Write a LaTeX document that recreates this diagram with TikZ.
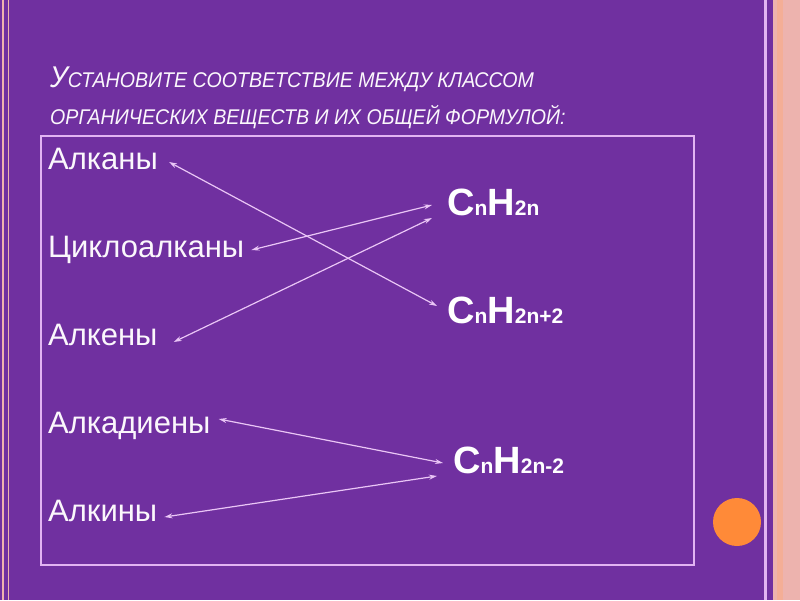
\documentclass[tikz,border=0pt]{standalone}
\usepackage{fontspec}
\setmainfont{Liberation Sans}
\newfontfamily\titlefont[FakeStretch=0.92]{Liberation Sans}
\usetikzlibrary{arrows.meta,calc}
\definecolor{slidebg}{HTML}{7030A0}
\definecolor{framelav}{HTML}{E2B4F2}
\definecolor{arrowlav}{HTML}{EAC6F6}
\definecolor{stripepink}{HTML}{EDB3AE}
\definecolor{stripesalmon}{HTML}{F4AE96}
\definecolor{dotorange}{HTML}{FF8A38}
\definecolor{textwhite}{HTML}{FBF7FC}

% C_n H_... with small letters standing on the baseline
\newcommand{\chemformula}[1]{{\fontsize{38}{38}\selectfont C}{\fontsize{21}{21}\selectfont n}{\fontsize{38}{38}\selectfont H}{\fontsize{21}{21}\selectfont #1}}

\begin{document}
\begin{tikzpicture}[x=1pt,y=-1pt,
    classname/.style={anchor=base west,inner sep=0pt,text=textwhite,font=\fontsize{31}{31}\selectfont},
    formbox/.style={anchor=base west,inner sep=0pt,text=white,font=\bfseries},
    headline/.style={anchor=base west,inner sep=0pt,text=textwhite,font=\titlefont\itshape\fontsize{21.3}{21.3}\selectfont},
    connect/.style={draw=arrowlav,line width=1.2pt,{Stealth[length=8pt,width=5pt]}-{Stealth[length=8pt,width=5pt]}}]
    % slide background
    \fill[slidebg] (0,0) rectangle (800,600);
    \useasboundingbox (0,0) rectangle (800,600);
    \draw[stripepink,line width=1.5pt] (3,0) -- (3,600);
    \draw[stripepink,line width=1.5pt] (8.5,0) -- (8.5,600);
    \draw[framelav,line width=2.5pt] (765.5,0) -- (765.5,600);
    \fill[stripepink] (773,0) rectangle (800,600);
    \fill[stripesalmon] (777,0) rectangle (783,600);
    \fill[dotorange] (737,522) circle (24);
    % frame
    \draw[framelav,line width=1.5pt] (41,136) rectangle (694,565);
    % title
    \node[headline] (title1) at (50,87)
        {{\fontsize{30}{30}\selectfont У}СТАНОВИТЕ СООТВЕТСТВИЕ МЕЖДУ КЛАССОМ};
    \node[headline] (title2) at (50,124) {ОРГАНИЧЕСКИХ ВЕЩЕСТВ И ИХ ОБЩЕЙ ФОРМУЛОЙ:};
    % classes
    \foreach \name/\txt/\y in {alkany/Алканы/169, cyclo/Циклоалканы/257, alkeny/Алкены/345,
                               alkadieny/Алкадиены/433, alkiny/Алкины/521}
        \node[classname] (\name) at (48,\y) {\txt};
    % formulas
    \node[formbox] (fene) at (447,215) {\chemformula{2n}};
    \node[formbox] (fane) at (447,323) {\chemformula{2n+2}};
    \node[formbox] (fyne) at (453,473) {\chemformula{2n-2}};
    % matching arrows
    \draw[connect] ($(alkany.base east)+(11,-7)$) -- ($(fane.base west)+(-10,-17)$);
    \draw[connect] ($(cyclo.base east)+(7,-7)$) -- ($(fene.base west)+(-15,-10)$);
    \draw[connect] ($(alkeny.base east)+(16,-3)$) -- ($(fene.base west)+(-15,3)$);
    \draw[connect] ($(alkadieny.base east)+(8,-14)$) -- ($(fyne.base west)+(-10,-10)$);
    \draw[connect] ($(alkiny.base east)+(7,-4)$) -- ($(fyne.base west)+(-16,3)$);
\end{tikzpicture}
\end{document}
